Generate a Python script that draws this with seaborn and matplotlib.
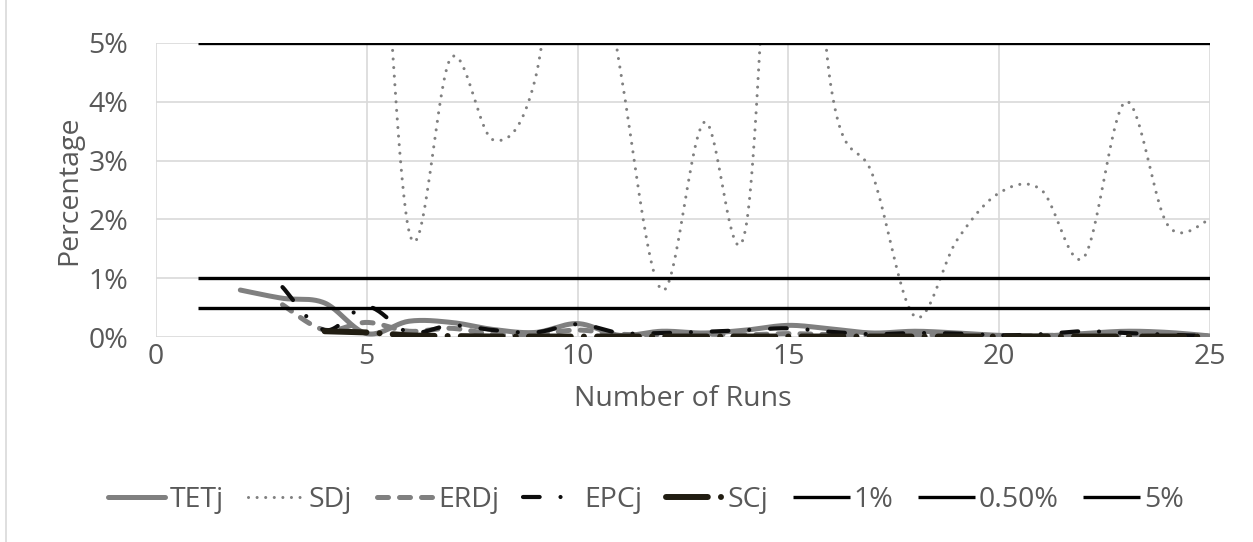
"""Percentage by number of runs, smoothed lines with reference levels."""
import numpy as np
import pandas as pd
import matplotlib
matplotlib.use('Agg')
import matplotlib.pyplot as plt
from matplotlib.lines import Line2D
import seaborn as sns

# values in percent (SDj points above 5% are clipped)
runs_tet = list(range(2, 26))
tet = [0.80, 0.66, 0.58, 0.06, 0.27, 0.25, 0.13, 0.08, 0.23, 0.03, 0.10, 0.07,
       0.12, 0.20, 0.14, 0.07, 0.10, 0.07, 0.03, 0.02, 0.06, 0.10, 0.08, 0.02]

runs_sd = list(range(2, 26))
sd = [15.0, 14.0, 12.0, 11.0, 1.8, 4.75, 3.35, 4.4, 9.0, 4.6, 0.8, 3.65,
      1.9, 12.0, 4.3, 2.75, 0.35, 1.65, 2.45, 2.5, 1.35, 4.0, 1.9, 2.0]

runs_erd = list(range(3, 26))
erd = [0.55, 0.12, 0.25, 0.10, 0.15, 0.05, 0.05, 0.12, 0.05, 0.04, 0.05,
       0.04, 0.06, 0.04, 0.03, 0.04, 0.03, 0.02, 0.03, 0.04, 0.04, 0.03, 0.02]

runs_epc = list(range(3, 26))
epc = [0.85, 0.12, 0.52, 0.08, 0.20, 0.12, 0.08, 0.22, 0.07, 0.07, 0.09,
       0.12, 0.15, 0.09, 0.05, 0.07, 0.06, 0.03, 0.05, 0.10, 0.07, 0.04, 0.02]

runs_sc = list(range(4, 26))
sc = [0.10, 0.08, 0.03, 0.02, 0.01, 0.01, 0.01, 0.01, 0.01, 0.01, 0.01,
      0.01, 0.01, 0.01, 0.01, 0.01, 0.01, 0.01, 0.01, 0.01, 0.01, 0.01]

runs_ref = list(range(1, 26))
ref_levels = {'1%': 1.0, '0.50%': 0.5, '5%': 5.0}


def smooth(x, y, n=24):
    """Catmull-Rom curve through the points, like Excel's smoothed line."""
    p = np.column_stack([x, y]).astype(float)
    p = np.vstack([p[0], p, p[-1]])
    t = np.linspace(0, 1, n, endpoint=False)[:, None]
    out = []
    for i in range(1, len(p) - 2):
        p0, p1, p2, p3 = p[i - 1], p[i], p[i + 1], p[i + 2]
        out.append(0.5 * (2 * p1 + (-p0 + p2) * t
                          + (2 * p0 - 5 * p1 + 4 * p2 - p3) * t ** 2
                          + (-p0 + 3 * p1 - 3 * p2 + p3) * t ** 3))
    out.append(p[-2][None, :])
    out = np.vstack(out)
    return pd.DataFrame({'x': out[:, 0], 'y': out[:, 1]})


sns.set_theme(style='white')
plt.rcParams['font.family'] = ['Open Sans', 'DejaVu Sans']
fs = 20.5
text_color = '#595959'
gray = '#808080'

fig, ax = plt.subplots(figsize=(12.53, 5.42), dpi=100)
fig.subplots_adjust(left=0.1245, right=0.9657, bottom=0.378, top=0.921)

series = [
    ('TETj', runs_tet, tet, dict(color=gray, linewidth=3.6, linestyle='-')),
    ('SDj', runs_sd, sd, dict(color=gray, linewidth=2.2,
                              linestyle=(0, (0.01, 2.8)))),
    ('ERDj', runs_erd, erd, dict(color=gray, linewidth=3.6,
                                 linestyle=(0, (2.2, 2.2)))),
    ('EPCj', runs_epc, epc, dict(color='#0d0d0d', linewidth=3.0,
                                 linestyle=(0, (4.0, 5.0, 0.01, 5.0)))),
    ('SCj', runs_sc, sc, dict(color='#211d12', linewidth=4.3,
                              linestyle=(0, (7.0, 2.2, 0.01, 2.2)))),
]

for name, xs, ys, kw in series:
    df = smooth(xs, ys)
    sns.lineplot(data=df, x='x', y='y', label=name, ax=ax, sort=False,
                 solid_capstyle='round', dash_capstyle='round', **kw)

for name, level in ref_levels.items():
    df = pd.DataFrame({'x': runs_ref, 'y': [level] * len(runs_ref)})
    sns.lineplot(data=df, x='x', y='y', label=name, ax=ax, color='black',
                 linewidth=2.4, solid_capstyle='butt')

ax.set_xlim(0, 25)
ax.set_ylim(0, 5)
ax.set_xticks(range(0, 26, 5))
ax.set_yticks(range(0, 6))
ax.set_yticklabels([f'{v}%' for v in range(0, 6)])
ax.grid(True, color='#d9d9d9', linewidth=1.2)
ax.set_axisbelow(True)
for s in ax.spines.values():
    s.set_visible(False)
ax.tick_params(axis='both', length=0, colors=text_color, labelsize=fs)
ax.tick_params(axis='y', pad=20)
ax.tick_params(axis='x', pad=4)
ax.set_xlabel('Number of Runs', color=text_color, fontsize=fs, labelpad=10)
ax.set_ylabel('Percentage', color=text_color, fontsize=fs, labelpad=4)

leg = ax.legend(loc='center', bbox_to_anchor=(0.465, -0.555), ncol=8,
                frameon=False, handlelength=2.0, handletextpad=0.15,
                columnspacing=0.85, fontsize=fs)
for t in leg.get_texts():
    t.set_color(text_color)

fig.add_artist(Line2D([0.005, 0.005], [0, 1], color='#d9d9d9',
                      linewidth=1.2, transform=fig.transFigure))

fig.savefig('out.png', dpi=100)
